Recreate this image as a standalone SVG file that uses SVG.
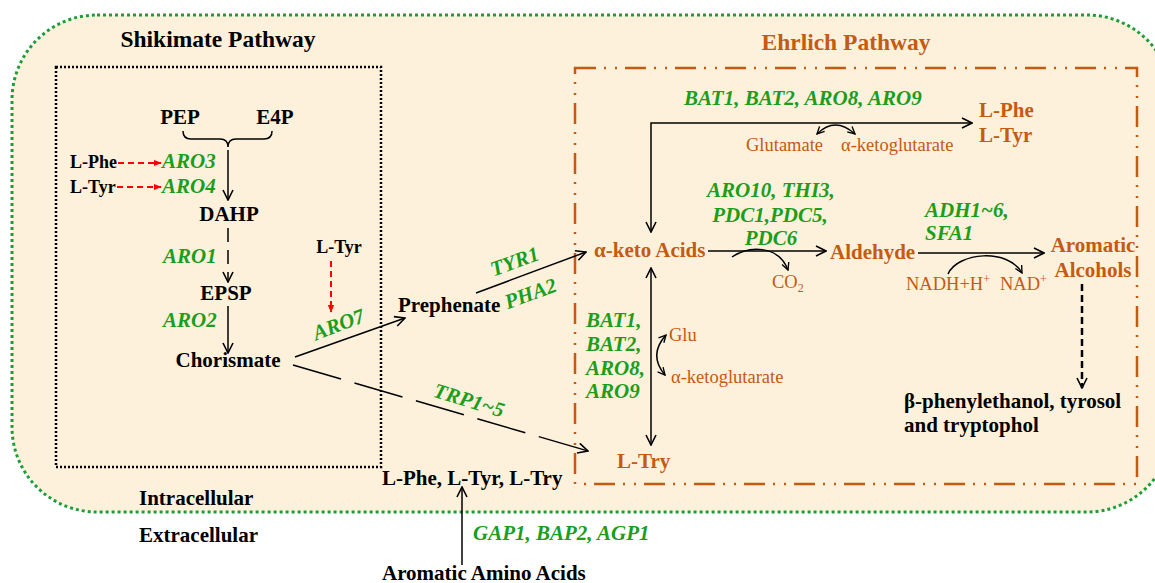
<svg xmlns="http://www.w3.org/2000/svg" width="1155" height="583" viewBox="0 0 1155 583" font-family="'Liberation Serif', 'Times New Roman', serif">
<defs>
<style>
text{font-family:"Liberation Serif","Times New Roman",serif;}
.b{font-weight:bold;font-size:21px;fill:#000;}
.bs{font-weight:bold;font-size:18px;fill:#000;}
.g{font-weight:bold;font-style:italic;font-size:21px;fill:#1B9E1B;}
.o{font-weight:bold;font-size:21px;fill:#C55A11;}
.os{font-size:18.5px;fill:#C55A11;}
.ttl{font-weight:bold;font-size:23.5px;}
.ln{fill:none;stroke:#000;stroke-width:1.5;}
.rd{fill:none;stroke:#FF0000;stroke-width:2;stroke-dasharray:6 4;}
</style>
<marker id="ah" viewBox="0 0 12 12" refX="11" refY="6" markerWidth="12" markerHeight="12" orient="auto-start-reverse" markerUnits="userSpaceOnUse"><path d="M1,1 L11,6 L1,11" fill="none" stroke="#000" stroke-width="1.6"/></marker>
<marker id="ahs" viewBox="0 0 10 10" refX="9" refY="5" markerWidth="9" markerHeight="9" orient="auto-start-reverse" markerUnits="userSpaceOnUse"><path d="M1,1 L9,5 L1,9" fill="none" stroke="#000" stroke-width="1.5"/></marker>
<marker id="ahr" viewBox="0 0 10 10" refX="9" refY="5" markerWidth="8" markerHeight="8" orient="auto" markerUnits="userSpaceOnUse"><path d="M0,1 L10,5 L0,9Z" fill="#FF0000"/></marker>
</defs>
<rect width="1155" height="583" fill="#fff"/>
<g id="cell">
<rect x="12" y="15" width="1160" height="497" rx="85" ry="85" fill="#FDF1DB" stroke="#1B9E3A" stroke-width="3" stroke-dasharray="3 3"/>
</g>
<g id="shikimate-box">
<rect x="56" y="67" width="325" height="400" fill="none" stroke="#000" stroke-width="2.5" stroke-dasharray="2 2"/>
<text class="ttl" x="218" y="47" text-anchor="middle">Shikimate Pathway</text>
</g>
<g id="ehrlich-box">
<rect x="575" y="68" width="562" height="416" fill="none" stroke="#C55A11" stroke-width="2.5" stroke-dasharray="21 8 2 9 2 8"/>
<text class="ttl" x="846" y="50" text-anchor="middle" fill="#C55A11">Ehrlich Pathway</text>
</g>
<g id="connectors">
<path class="ln" d="M183,131 Q183,139 191,139 L220,139 Q228,139 228,147 Q228,139 236,139 L264,139 Q272,139 272,131"/>
<line class="ln" x1="228" y1="150" x2="228" y2="200" marker-end="url(#ah)"/>
<line class="rd" x1="118" y1="163" x2="161" y2="163" marker-end="url(#ahr)"/>
<line class="rd" x1="117" y1="187" x2="161" y2="187" marker-end="url(#ahr)"/>
<line class="ln" x1="228" y1="228" x2="228" y2="282" stroke-dasharray="14 8" marker-end="url(#ah)"/>
<line class="ln" x1="228" y1="306" x2="228" y2="353" marker-end="url(#ah)"/>
<line class="rd" x1="331" y1="261" x2="331" y2="312" marker-end="url(#ahr)"/>
<line class="ln" x1="295" y1="357" x2="405" y2="318" marker-end="url(#ah)"/>
<line class="ln" x1="476" y1="293" x2="586" y2="252" marker-end="url(#ah)"/>
<line class="ln" x1="293" y1="365" x2="588" y2="451" stroke-dasharray="50 14" marker-end="url(#ah)"/>
<path class="ln" d="M651,232 V123 H972" marker-start="url(#ah)" marker-end="url(#ah)"/>
<path class="ln" d="M817,134 Q835,116 855,134" marker-start="url(#ahs)" marker-end="url(#ahs)"/>
<line class="ln" x1="708" y1="251" x2="826" y2="251" marker-end="url(#ah)"/>
<path class="ln" d="M732,257 C748,246 778,244 788,270" marker-end="url(#ahs)"/>
<line class="ln" x1="918" y1="253" x2="1044" y2="253" marker-end="url(#ah)"/>
<path class="ln" d="M948,274 C958,252 1008,248 1022,273" marker-end="url(#ahs)"/>
<line x1="1082" y1="284" x2="1082" y2="388" stroke="#000" stroke-width="2.5" stroke-dasharray="7 4" marker-end="url(#ah)"/>
<line class="ln" x1="651" y1="268" x2="651" y2="445" marker-start="url(#ah)" marker-end="url(#ah)"/>
<path class="ln" d="M666,335 Q648,355 665,375" marker-start="url(#ahs)" marker-end="url(#ahs)"/>
<line class="ln" x1="462" y1="565" x2="462" y2="487" marker-end="url(#ah)"/>
</g>
<g id="shikimate-nodes">
<text class="b" x="180" y="124" text-anchor="middle">PEP</text>
<text class="b" x="275" y="124" text-anchor="middle">E4P</text>
<text class="bs" x="70" y="168">L-Phe</text>
<text class="bs" x="70" y="193">L-Tyr</text>
<text class="g" x="162" y="168">ARO3</text>
<text class="g" x="162" y="193">ARO4</text>
<text class="b" x="229" y="221" text-anchor="middle">DAHP</text>
<text class="g" x="163" y="263">ARO1</text>
<text class="b" x="226" y="300" text-anchor="middle">EPSP</text>
<text class="g" x="163" y="327">ARO2</text>
<text class="b" x="228" y="367" text-anchor="middle">Chorismate</text>
<text class="bs" x="339" y="253" text-anchor="middle">L-Tyr</text>
<text class="g" x="341" y="331" text-anchor="middle" transform="rotate(-21 341 331)">ARO7</text>
</g>
<g id="prephenate">
<text class="b" x="398" y="312">Prephenate</text>
<text class="g" x="517" y="268" text-anchor="middle" transform="rotate(-20 517 268)">TYR1</text>
<text class="g" x="533" y="300" text-anchor="middle" transform="rotate(-20 533 300)">PHA2</text>
<text class="g" x="467" y="407" text-anchor="middle" transform="rotate(17 467 407)">TRP1~5</text>
</g>
<g id="ehrlich-nodes">
<text class="g" x="684" y="105">BAT1, BAT2, ARO8, ARO9</text>
<text class="o" x="979" y="117">L-Phe</text>
<text class="o" x="979" y="142">L-Tyr</text>
<text class="os" x="746" y="151">Glutamate</text>
<text class="os" x="841" y="151">α-ketoglutarate</text>
<text class="g" x="771" y="197" text-anchor="middle">ARO10, THI3,</text>
<text class="g" x="770" y="222" text-anchor="middle">PDC1,PDC5,</text>
<text class="g" x="771" y="245" text-anchor="middle">PDC6</text>
<text class="o" x="594" y="257">α-keto Acids</text>
<text class="o" x="830" y="259">Aldehyde</text>
<text class="os" x="772" y="288">CO<tspan font-size="12" dy="4">2</tspan></text>
<text class="g" x="925" y="217">ADH1~6,</text>
<text class="g" x="925" y="240">SFA1</text>
<text class="o" x="1093" y="252" text-anchor="middle">Aromatic</text>
<text class="o" x="1093" y="277" text-anchor="middle">Alcohols</text>
<text class="os" x="906" y="290">NADH+H<tspan font-size="12" dy="-7">+</tspan></text>
<text class="os" x="1000" y="290">NAD<tspan font-size="12" dy="-7">+</tspan></text>
<text class="b" x="904" y="408">β-phenylethanol, tyrosol</text>
<text class="b" x="904" y="432">and tryptophol</text>
<text class="g" x="586" y="327">BAT1,</text>
<text class="g" x="586" y="351">BAT2,</text>
<text class="g" x="586" y="375">ARO8,</text>
<text class="g" x="586" y="398">ARO9</text>
<text class="os" x="669" y="341">Glu</text>
<text class="os" x="671" y="383">α-ketoglutarate</text>
<text class="o" x="617" y="468">L-Try</text>
</g>
<g id="transport">
<text class="b" x="382" y="485">L-Phe, L-Tyr, L-Try</text>
<text class="b" x="139" y="505">Intracellular</text>
<text class="b" x="139" y="542">Extracellular</text>
<text class="g" x="473" y="540">GAP1, BAP2, AGP1</text>
<text class="b" x="382" y="580">Aromatic Amino Acids</text>
</g>
</svg>
